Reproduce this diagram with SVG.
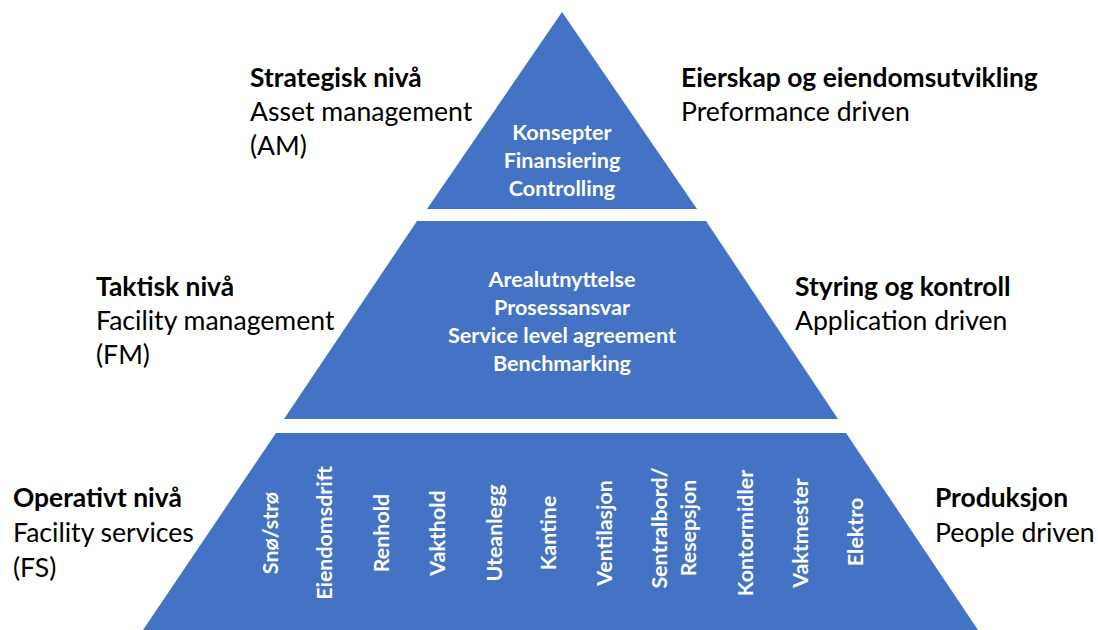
<svg xmlns="http://www.w3.org/2000/svg" width="1098" height="630" viewBox="0 0 1098 630">
<style>
.lvl{fill:#4472C4;}
.in{font-family:Lato,"Open Sans","Liberation Sans",sans-serif;font-weight:bold;font-size:21.6px;fill:#FFFFFF;text-anchor:middle;}
.vt{font-family:Lato,"Open Sans","Liberation Sans",sans-serif;font-weight:bold;font-size:21.4px;fill:#FFFFFF;text-anchor:middle;dominant-baseline:central;}
.hb{font-family:Lato,"Open Sans","Liberation Sans",sans-serif;font-weight:bold;font-size:26.4px;fill:#000000;}
.hr{font-family:Lato,"Open Sans","Liberation Sans",sans-serif;font-size:26.6px;fill:#000000;}
</style>
<rect width="1098" height="630" fill="#FFFFFF"/>
<g id="strategic">
<polygon class="lvl" points="562,12 697,209 427,209"/>
<text class="in" x="562" y="140">Konsepter</text>
<text class="in" x="562" y="168">Finansiering</text>
<text class="in" x="562" y="196">Controlling</text>
</g>
<g id="tactical">
<polygon class="lvl" points="417,221 706,221 838,419 284,419"/>
<text class="in" x="562" y="287">Arealutnyttelse</text>
<text class="in" x="562" y="315">Prosessansvar</text>
<text class="in" x="562" y="343">Service level agreement</text>
<text class="in" x="562" y="371">Benchmarking</text>
</g>
<g id="operational">
<polygon class="lvl" points="276,433 846,433 978,630 143,630"/>
<text class="vt" transform="translate(270,533) rotate(-90)">Snø/strø</text>
<text class="vt" transform="translate(324,533) rotate(-90)">Eiendomsdrift</text>
<text class="vt" transform="translate(381,533) rotate(-90)">Renhold</text>
<text class="vt" transform="translate(437,533) rotate(-90)">Vakthold</text>
<text class="vt" transform="translate(494,533) rotate(-90)">Uteanlegg</text>
<text class="vt" transform="translate(548,533) rotate(-90)">Kantine</text>
<text class="vt" transform="translate(604,533) rotate(-90)">Ventilasjon</text>
<text class="vt" transform="translate(659,528) rotate(-90)">Sentralbord/</text>
<text class="vt" transform="translate(688,528) rotate(-90)">Resepsjon</text>
<text class="vt" transform="translate(745,533) rotate(-90)">Kontormidler</text>
<text class="vt" transform="translate(800,533) rotate(-90)">Vaktmester</text>
<text class="vt" transform="translate(855,532) rotate(-90)">Elektro</text>
</g>
<g id="label-strategic">
<text class="hb" x="250" y="87">Strategisk nivå</text>
<text class="hr" x="250" y="121">Asset management</text>
<text class="hr" x="250" y="155">(AM)</text>
</g>
<g id="label-ownership">
<text class="hb" x="681" y="87">Eierskap og eiendomsutvikling</text>
<text class="hr" x="681" y="121">Preformance driven</text>
</g>
<g id="label-tactical">
<text class="hb" x="96" y="296">Taktisk nivå</text>
<text class="hr" x="96" y="330">Facility management</text>
<text class="hr" x="96" y="364">(FM)</text>
</g>
<g id="label-control">
<text class="hb" x="795" y="296">Styring og kontroll</text>
<text class="hr" x="795" y="330">Application driven</text>
</g>
<g id="label-operational">
<text class="hb" x="13" y="507">Operativt nivå</text>
<text class="hr" x="13" y="542">Facility services</text>
<text class="hr" x="13" y="577">(FS)</text>
</g>
<g id="label-production">
<text class="hb" x="935" y="507">Produksjon</text>
<text class="hr" x="935" y="542">People driven</text>
</g>
<g id="connectors"/>
</svg>
